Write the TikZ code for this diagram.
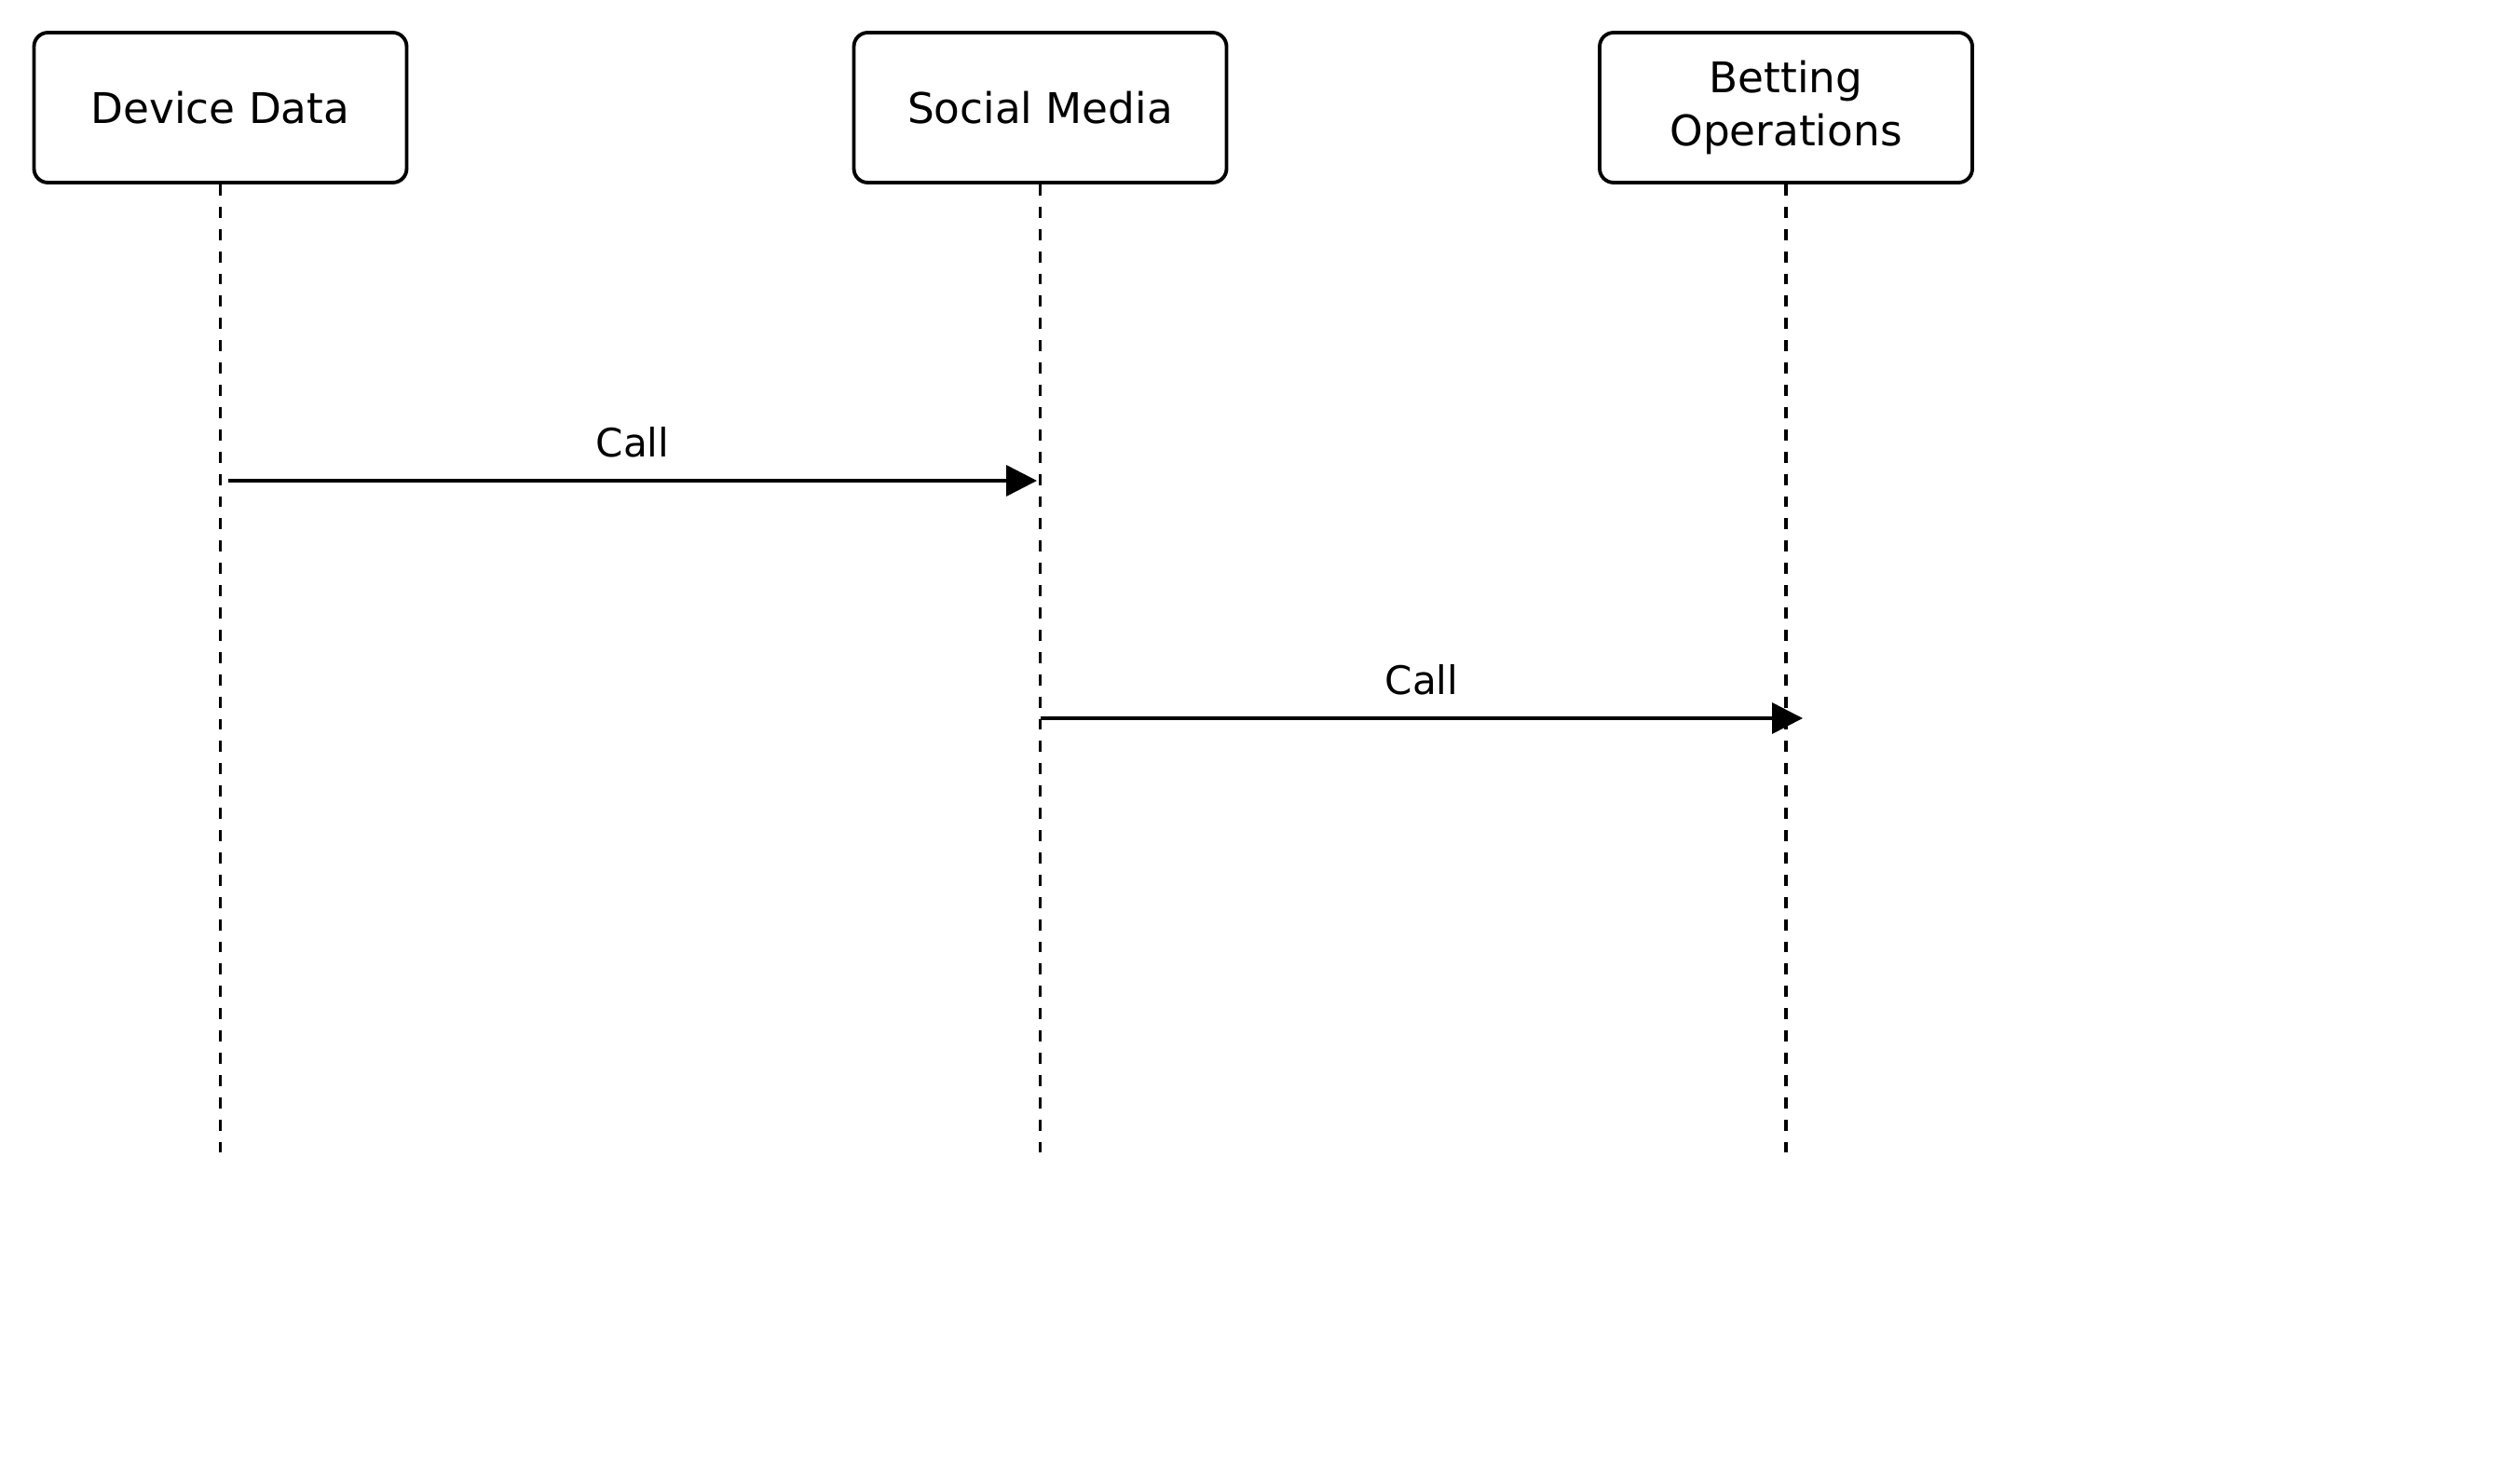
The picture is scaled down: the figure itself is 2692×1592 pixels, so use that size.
\documentclass[tikz,border=0pt]{standalone}
\usepackage{fontspec}
\setmainfont{DejaVu Sans}
\usetikzlibrary{arrows.meta}
\tikzset{
  actor/.style={draw=black, line width=1.1pt, rounded corners=0.15cm, minimum width=4cm, minimum height=1.61cm, align=center, font=\fontsize{12.9}{16.4}\selectfont},
  lifeline/.style={draw=black, line width=1pt, dash pattern=on 3.4pt off 3.4pt},
  msg/.style={draw=black, line width=1pt, -{Triangle[length=0.33cm,width=0.33cm]}},
  msglabel/.style={inner sep=0pt, font=\fontsize{12}{14}\selectfont}
}
\begin{document}
\begin{tikzpicture}[x=0.1mm, y=0.1mm]
    \useasboundingbox (0,0) rectangle (2692,-1592);
    % participants
    \node [actor] (device) at (236.5,-115.5) {Device Data};
    \node [actor] (social) at (1116.5,-115.5) {Social Media};
    \node [actor] (betting) at (1917,-115.5) {Betting\\Operations};
    % lifeline ends
    \coordinate (deviceend) at (236.5,-1237);
    \coordinate (socialend) at (1116.5,-1237);
    \coordinate (bettingend) at (1917,-1237);
    \draw [lifeline] (device) -- (deviceend);
    \draw [lifeline] (social) -- (socialend);
    \draw [lifeline] (betting) -- (bettingend);
    % messages
    \coordinate (call1from) at (245,-516);
    \coordinate (call1to) at (1113,-516);
    \coordinate (call2from) at (1117,-771);
    \coordinate (call2to) at (1935,-771);
    \draw [msg] (call1from) -- node [msglabel, above=0.23cm] {Call} (call1to);
    \draw [msg] (call2from) -- node [msglabel, above=0.23cm] {Call} (call2to);
\end{tikzpicture}
\end{document}
